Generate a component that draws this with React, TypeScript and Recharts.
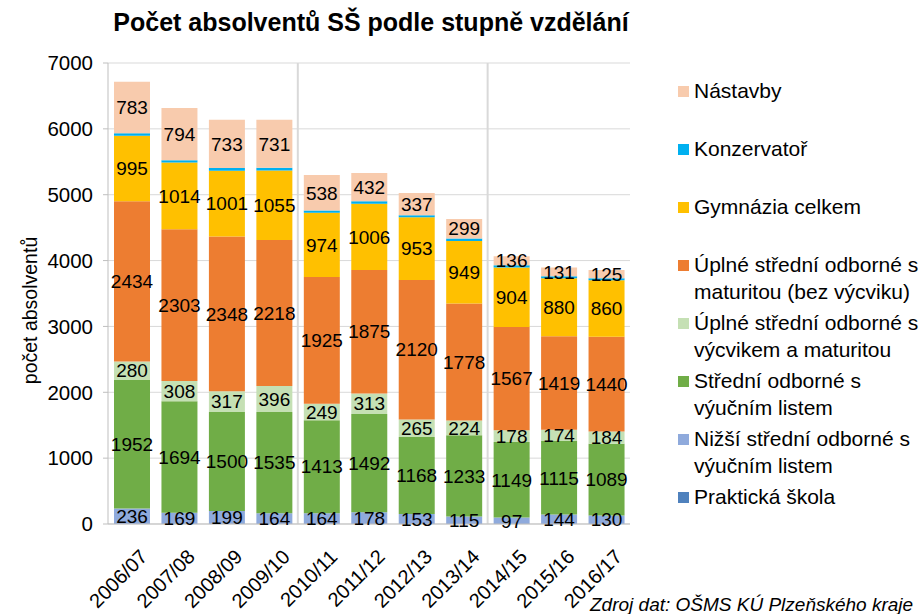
import React from "react"
import {
  BarChart, Bar, XAxis, YAxis, CartesianGrid, LabelList, ReferenceLine
} from "recharts"

const years = [
  "2006/07", "2007/08", "2008/09", "2009/10", "2010/11", "2011/12",
  "2012/13", "2013/14", "2014/15", "2015/16", "2016/17",
]

// bottom to top
const prakticka = [0, 0, 0, 0, 0, 0, 0, 0, 0, 0, 0]
const nizsi = [236, 169, 199, 164, 164, 178, 153, 115, 97, 144, 130]
const vyucni = [1952, 1694, 1500, 1535, 1413, 1492, 1168, 1233, 1149, 1115, 1089]
const vycvikMaturita = [280, 308, 317, 396, 249, 313, 265, 224, 178, 174, 184]
const maturita = [2434, 2303, 2348, 2218, 1925, 1875, 2120, 1778, 1567, 1419, 1440]
const gymnazia = [995, 1014, 1001, 1055, 974, 1006, 953, 949, 904, 880, 860]
const konzervator = [35, 35, 40, 40, 35, 35, 30, 35, 35, 30, 30]
const nastavby = [783, 794, 733, 731, 538, 432, 337, 299, 136, 131, 125]

const yTicks = [0, 1000, 2000, 3000, 4000, 5000, 6000, 7000]

const series = [
  { key: "prakticka", name: "Praktická škola", color: "#4F81BD", values: prakticka, label: false },
  { key: "nizsi", name: "Nižší střední odborné s výučním listem", color: "#8FAADC", values: nizsi, label: true },
  { key: "vyucni", name: "Střední odborné s výučním listem", color: "#70AD47", values: vyucni, label: true },
  { key: "vycvikMaturita", name: "Úplné střední odborné s výcvikem a maturitou", color: "#C5E0B4", values: vycvikMaturita, label: true },
  { key: "maturita", name: "Úplné střední odborné s maturitou (bez výcviku)", color: "#ED7D31", values: maturita, label: true },
  { key: "gymnazia", name: "Gymnázia celkem", color: "#FFC000", values: gymnazia, label: true },
  { key: "konzervator", name: "Konzervatoř", color: "#00B0F0", values: konzervator, label: false },
  { key: "nastavby", name: "Nástavby", color: "#F8CBAD", values: nastavby, label: true },
]

const legendLines: Record<string, string[]> = {
  nastavby: ["Nástavby"],
  konzervator: ["Konzervatoř"],
  gymnazia: ["Gymnázia celkem"],
  maturita: ["Úplné střední odborné s", "maturitou (bez výcviku)"],
  vycvikMaturita: ["Úplné střední odborné s", "výcvikem a maturitou"],
  vyucni: ["Střední odborné s", "výučním listem"],
  nizsi: ["Nižší střední odborné s", "výučním listem"],
  prakticka: ["Praktická škola"],
}

const data = years.map((year, i) => {
  const row: Record<string, string | number> = { year }
  series.forEach(s => { row[s.key] = s.values[i] })
  return row
})

const FONT = "'Liberation Sans', Arial, sans-serif"

function XTick({ x, y, payload }: any) {
  const ax = x + 17
  const ay = y + 26
  return (
    <text
      x={ax}
      y={ay}
      textAnchor="end"
      fontSize={20}
      fontFamily={FONT}
      fill="#000"
      transform={`rotate(-45, ${ax}, ${ay})`}
    >
      {payload.value}
    </text>
  )
}

export default function App() {
  return (
    <div style={{ position: "absolute", left: 0, top: 0, width: 923, height: 614, background: "#fff", fontFamily: FONT, overflow: "hidden" }}>
      <div style={{ position: "absolute", left: 0, width: 742, top: 8, textAlign: "center", fontWeight: "bold", fontSize: 25 }}>
        Počet absolventů SŠ podle stupně vzdělání
      </div>

      <BarChart
        width={923}
        height={614}
        data={data}
        margin={{ top: 63, right: 293, bottom: 0, left: 0 }}
        barSize={36}
      >
        <CartesianGrid vertical={false} stroke="#D9D9D9" />
        <XAxis
          dataKey="year"
          height={90}
          interval={0}
          tick={<XTick />}
          tickLine={false}
          axisLine={{ stroke: "#BFBFBF" }}
        />
        <YAxis
          width={108}
          domain={[0, 7000]}
          ticks={yTicks}
          interval={0}
          tick={{ fill: "#000", fontSize: 20.5, fontFamily: FONT }}
          tickLine={{ stroke: "#BFBFBF" }}
          tickSize={5}
          tickMargin={10}
          axisLine={{ stroke: "#BFBFBF" }}
          label={({ viewBox }: any) => {
            const cy = viewBox.y + viewBox.height / 2 + 17
            return (
              <text
                x={30}
                y={cy}
                textAnchor="middle"
                dominantBaseline="central"
                fontSize={19.5}
                fontFamily={FONT}
                fill="#000"
                transform={`rotate(-90, 30, ${cy})`}
              >
                počet absolventů
              </text>
            )
          }}
        />
        <ReferenceLine x="2009/10" position="end" stroke="#D9D9D9" strokeWidth={2} />
        <ReferenceLine x="2013/14" position="end" stroke="#D9D9D9" strokeWidth={2} />
        {series.map(s => (
          <Bar key={s.key} dataKey={s.key} name={s.name} stackId="a" fill={s.color} isAnimationActive={false}>
            {s.label && (
              <LabelList dataKey={s.key} position="center" fill="#000" fontSize={19} fontFamily={FONT} />
            )}
          </Bar>
        ))}
      </BarChart>

      <div style={{ position: "absolute", left: 678, top: 77 }}>
        {[...series].reverse().map(s => (
          <div key={s.key} style={{ height: 58, display: "flex", alignItems: "flex-start" }}>
            <div style={{ width: 11, height: 11, background: s.color, marginTop: 9, marginRight: 5, flexShrink: 0 }} />
            <div style={{ fontSize: 21, lineHeight: "27px", color: "#000", whiteSpace: "nowrap" }}>
              {legendLines[s.key].map(line => <div key={line}>{line}</div>)}
            </div>
          </div>
        ))}
      </div>

      <div style={{ position: "absolute", left: 590, top: 594, fontSize: 19, fontStyle: "italic", whiteSpace: "nowrap" }}>
        Zdroj dat: OŠMS KÚ Plzeňského kraje
      </div>
    </div>
  )
}
